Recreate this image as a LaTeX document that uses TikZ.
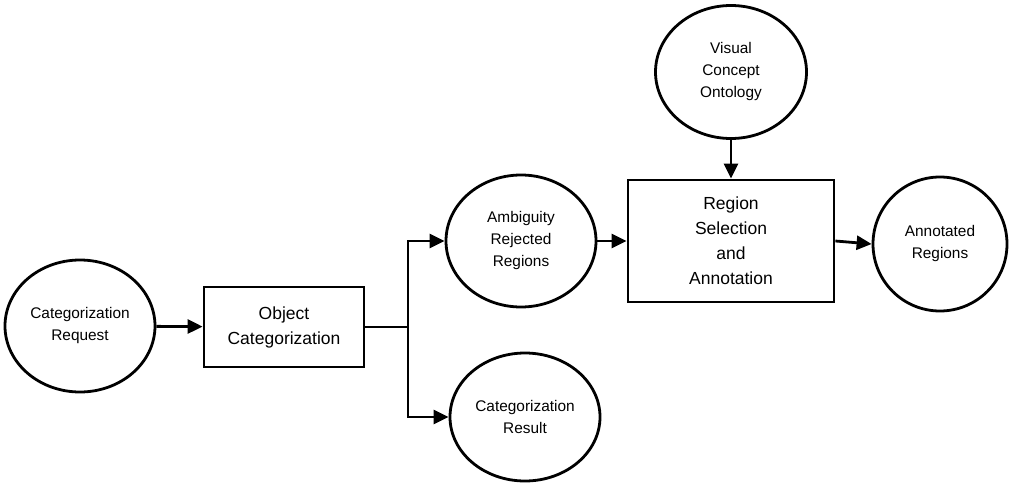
\documentclass[tikz,border=0pt]{standalone}
\usepackage{fontspec}
\setmainfont{Liberation Sans}
\usetikzlibrary{shapes.geometric,arrows.meta}

\begin{document}
\begin{tikzpicture}[x=1pt, y=-1pt, line width=2.8pt,
    >={Triangle[length=15pt,width=14pt]},
    store/.style={draw, ellipse, align=center, font=\fontsize{15.4}{22}\selectfont,
                  minimum width=150pt, minimum height=132pt, inner sep=0pt},
    proc/.style={draw, rectangle, align=center, font=\fontsize{17.5}{25}\selectfont,
                 inner sep=0pt}]
        \useasboundingbox (0,0) rectangle (1011,487);

        % Data stores (ellipses)
        \node[store] (req) at (80,326) {Categorization\\Request};
        \node[store] (amb) at (521,241) {Ambiguity\\Rejected\\Regions};
        \node[store, minimum height=128pt] (res) at (525,417) {Categorization\\Result};
        \node[store, minimum width=151pt, minimum height=133pt] (vco) at (731,72) {Visual\\Concept\\Ontology};
        \node[store, minimum width=134pt, minimum height=134pt] (ann) at (940,244) {Annotated\\Regions};

        % Processes (boxes)
        \node[proc, minimum width=160pt, minimum height=80pt] (obj) at (284,327) {Object\\Categorization};
        \node[proc, minimum width=206pt, minimum height=122pt] (sel) at (731,241) {Region\\Selection\\and\\Annotation};

        % Flows
        \coordinate (fork) at (408,327);
        \draw[->] (req) -- (obj);
        \draw (obj.east) -- (fork);
        \draw[->] (fork) |- (amb.west);
        \draw[->] (fork) |- (res.west);
        \draw[->] (amb) -- (sel);
        \draw[->] (vco) -- (sel);
        \draw[->] (sel.east) -- (ann.west);
\end{tikzpicture}
\end{document}
